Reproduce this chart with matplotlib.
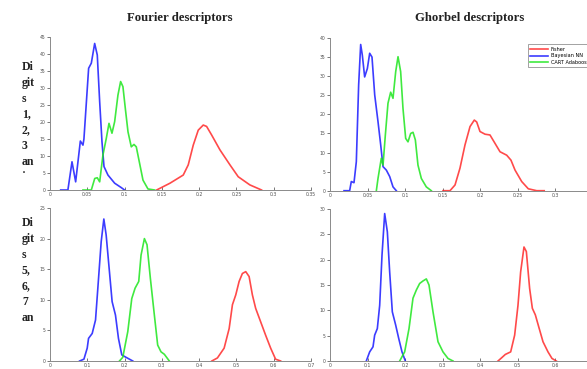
import matplotlib
matplotlib.use('Agg')
import matplotlib.pyplot as plt

# ---------------- data ----------------
# Top-left: Fourier descriptors, digits 1,2,3,4
fl_fisher_x = [0.143, 0.1609, 0.1787, 0.1854, 0.1921, 0.1988, 0.2055, 0.21, 0.2167, 0.2279, 0.2413, 0.2524, 0.268, 0.2837]
fl_fisher_y = [0, 2.0, 4.4, 7.4, 13.2, 17.6, 19.1, 18.7, 16.2, 11.8, 7.4, 3.9, 1.5, 0]
fl_bayes_x = [0.0143, 0.024, 0.0295, 0.0344, 0.0407, 0.0442, 0.0455, 0.0518, 0.0554, 0.0599, 0.0634, 0.0666, 0.0697, 0.0724, 0.0777, 0.0867, 0.0956, 0.1]
fl_bayes_y = [0, 0, 8.3, 2.4, 14.4, 13.2, 15.0, 35.8, 37.3, 43.1, 39.7, 26.0, 14.2, 6.9, 4.4, 2.0, 0.7, 0]
fl_cart_x = [0.0442, 0.0554, 0.06, 0.0634, 0.0666, 0.071, 0.0755, 0.0791, 0.0831, 0.0867, 0.0911, 0.0947, 0.0978, 0.101, 0.1046, 0.109, 0.1126, 0.1157, 0.1202, 0.1247, 0.1314, 0.1403]
fl_cart_y = [0, 0, 3.4, 3.6, 2.4, 10.3, 15.2, 19.6, 16.7, 20.1, 27.9, 31.9, 30.4, 24.0, 17.1, 12.7, 13.4, 12.7, 7.8, 2.9, 0.3, 0]

# Top-right: Ghorbel descriptors, digits 1,2,3,4
gl_fisher_x = [0.1507, 0.16, 0.1667, 0.1733, 0.18, 0.1867, 0.1924, 0.1956, 0.2, 0.2067, 0.2133, 0.22, 0.2267, 0.2356, 0.2413, 0.2467, 0.2556, 0.2644, 0.2756, 0.2856]
gl_fisher_y = [0, 0, 1.5, 5.9, 12.0, 16.8, 18.5, 18.0, 15.5, 14.8, 14.6, 12.4, 10.2, 9.3, 8.0, 5.4, 2.4, 0.5, 0, 0]
gl_bayes_x = [0.0187, 0.0262, 0.0284, 0.032, 0.0351, 0.0382, 0.0409, 0.0431, 0.0462, 0.0498, 0.0529, 0.056, 0.0596, 0.064, 0.0676, 0.0707, 0.0751, 0.0796, 0.084, 0.0884]
gl_bayes_y = [0, 0, 2.4, 2.1, 7.6, 27.7, 38.3, 35.5, 29.8, 32.0, 36.0, 35.0, 25.1, 18.1, 12.0, 6.3, 5.4, 3.7, 1.0, 0]
gl_cart_x = [0.0618, 0.064, 0.0684, 0.0707, 0.0738, 0.0773, 0.0809, 0.084, 0.0876, 0.0907, 0.0942, 0.0973, 0.1009, 0.104, 0.1076, 0.1107, 0.1138, 0.1173, 0.1218, 0.1284, 0.1351]
gl_cart_y = [0, 3.2, 8.5, 6.7, 14.6, 22.9, 25.8, 24.2, 31.2, 35.1, 31.2, 21.6, 13.7, 12.8, 15.0, 15.3, 13.3, 6.7, 3.2, 1.0, 0]

# Bottom-left: Fourier descriptors, digits 5,6,7,...
fb_fisher_x = [0.434, 0.449, 0.467, 0.4805, 0.4893, 0.4982, 0.5072, 0.516, 0.525, 0.534, 0.5428, 0.5516, 0.565, 0.5784, 0.5918, 0.605, 0.6185]
fb_fisher_y = [0, 0.5, 2.1, 5.3, 9.2, 10.8, 13.0, 14.3, 14.6, 13.8, 10.8, 8.6, 6.4, 4.2, 2.1, 0.3, 0]
fb_bayes_x = [0.0794, 0.091, 0.0998, 0.1034, 0.1132, 0.1221, 0.1283, 0.1373, 0.1444, 0.1506, 0.1578, 0.1666, 0.1756, 0.1836, 0.1925, 0.204, 0.222]
fb_bayes_y = [0, 0.3, 2.1, 3.7, 4.5, 6.7, 11.9, 19.5, 23.2, 20.6, 15.7, 9.7, 7.5, 3.7, 1.0, 0.6, 0]
fb_cart_x = [0.1863, 0.1952, 0.2086, 0.2193, 0.2282, 0.238, 0.2442, 0.2532, 0.2602, 0.2692, 0.2799, 0.2888, 0.2977, 0.3066, 0.32]
fb_cart_y = [0, 0.6, 4.8, 10.2, 11.9, 13.0, 17.3, 20.0, 19.0, 13.5, 7.5, 2.6, 1.5, 1.1, 0]

# Bottom-right: Ghorbel descriptors, digits 5,6,7,...
gb_fisher_x = [0.448, 0.4587, 0.4676, 0.4818, 0.4924, 0.5013, 0.5084, 0.5173, 0.5236, 0.5324, 0.5396, 0.5476, 0.5564, 0.568, 0.5813, 0.592, 0.6035]
gb_fisher_y = [0, 0.7, 1.3, 1.8, 5.1, 11.0, 17.6, 22.5, 21.6, 14.3, 10.4, 9.1, 6.8, 3.8, 1.8, 0.5, 0]
gb_bayes_x = [0.0968, 0.1058, 0.1147, 0.1191, 0.1262, 0.1325, 0.1387, 0.1458, 0.1529, 0.1591, 0.1662, 0.1751, 0.1831, 0.192, 0.2009]
gb_bayes_y = [0, 1.8, 2.8, 5.1, 6.4, 11.0, 20.9, 29.1, 25.5, 17.6, 9.7, 7.1, 4.5, 1.8, 0]
gb_cart_x = [0.1858, 0.1991, 0.2107, 0.2213, 0.2302, 0.2391, 0.248, 0.2569, 0.264, 0.2747, 0.288, 0.3013, 0.3147, 0.328]
gb_cart_y = [0, 1.8, 6.4, 12.4, 14.0, 15.3, 15.8, 16.2, 15.0, 9.7, 3.8, 1.8, 0.5, 0]

series_names = ["Fisher", "Bayesian NN", "CART Adaboost"]
col_titles = ["Fourier descriptors", "Ghorbel descriptors"]
row_labels = ["Di\ngit\ns\n1,\n2,\n3\nan\n\u02d9", "Di\ngit\ns\n5,\n6,\n7\nan"]

top_xticks = [0, 0.05, 0.1, 0.15, 0.2, 0.25, 0.3, 0.35]
top_xlabels = ["0", "0.05", "0.1", "0.15", "0.2", "0.25", "0.3", "0.35"]
bot_xticks = [0, 0.1, 0.2, 0.3, 0.4, 0.5, 0.6, 0.7]
bot_xlabels = ["0", "0.1", "0.2", "0.3", "0.4", "0.5", "0.6", "0.7"]
ymax = {"tl": 45, "tr": 40, "bl": 25, "br": 30}

# ---------------- figure ----------------
W, H = 587, 369
fig = plt.figure(figsize=(W / 100, H / 100), dpi=100)

def ax_at(x0, x1, ybot, ytop):
    return fig.add_axes([x0 / W, 1 - ybot / H, (x1 - x0) / W, (ybot - ytop) / H])

colors = {"Fisher": "#ff2a2a", "Bayesian NN": "#1a1aff", "CART Adaboost": "#1ee61e"}

panels = [
    ("tl", ax_at(50, 311, 190, 37), (fl_fisher_x, fl_fisher_y), (fl_bayes_x, fl_bayes_y), (fl_cart_x, fl_cart_y), top_xticks, top_xlabels, 0.35),
    ("tr", ax_at(330, 592.5, 190.7, 38), (gl_fisher_x, gl_fisher_y), (gl_bayes_x, gl_bayes_y), (gl_cart_x, gl_cart_y), top_xticks, top_xlabels, 0.35),
    ("bl", ax_at(50, 311, 361, 208), (fb_fisher_x, fb_fisher_y), (fb_bayes_x, fb_bayes_y), (fb_cart_x, fb_cart_y), bot_xticks, bot_xlabels, 0.7),
    ("br", ax_at(330, 592.5, 361, 209), (gb_fisher_x, gb_fisher_y), (gb_bayes_x, gb_bayes_y), (gb_cart_x, gb_cart_y), bot_xticks, bot_xlabels, 0.7),
]

for key, ax, fis, bay, cart, xt, xl, xmax in panels:
    for name, (xs, ys) in zip(series_names, [fis, bay, cart]):
        ax.plot(xs, ys, color=colors[name], lw=1.2, alpha=0.85, label=name)
    ax.set_xlim(0, xmax)
    ax.set_ylim(0, ymax[key])
    if key in ("tr", "br"):
        # the last tick label lies outside the cropped picture
        xt, xl = xt[:-1], xl[:-1]
    ax.set_xticks(xt)
    ax.set_xticklabels(xl)
    ax.set_yticks(list(range(0, ymax[key] + 1, 5)))
    for s in ["top", "right"]:
        ax.spines[s].set_visible(False)
    for s in ["left", "bottom"]:
        ax.spines[s].set_color("#8a8a8a")
        ax.spines[s].set_linewidth(0.7)
    ax.tick_params(axis="both", labelsize=3.3, labelcolor="#505050", color="#444444",
                   length=2, width=0.5, pad=1.5)
    ax.tick_params(axis="x", direction="in")
    ax.tick_params(axis="y", direction="out")
    ax.patch.set_alpha(0)
    if key == "tr":
        leg = ax.legend(loc="upper left", bbox_to_anchor=(0.743, 0.975), fontsize=3.6,
                        handlelength=3.6, handletextpad=0.6, labelspacing=0.35,
                        borderpad=0.45, fancybox=False, frameon=True)
        leg.get_frame().set_edgecolor("#777777")
        leg.get_frame().set_linewidth(0.6)
        for lh in leg.get_lines():
            lh.set_linewidth(1.2)

serif = ["Liberation Serif", "DejaVu Serif"]
fig.text(180 / W, 1 - 18 / H, col_titles[0], ha="center", va="center",
         fontsize=9.2, fontweight="bold", family=serif, color="#222222")
fig.text(470 / W, 1 - 18 / H, col_titles[1], ha="center", va="center",
         fontsize=9.2, fontweight="bold", family=serif, color="#222222")

fig.text(22 / W, 1 - 61 / H, row_labels[0], ha="left", va="top", fontsize=8.5,
         fontweight="bold", family=serif, color="#222222", linespacing=1.42, multialignment="left")
fig.text(22 / W, 1 - 217 / H, row_labels[1], ha="left", va="top", fontsize=8.5,
         fontweight="bold", family=serif, color="#222222", linespacing=1.42, multialignment="left")

fig.savefig("out.png", dpi=100)
